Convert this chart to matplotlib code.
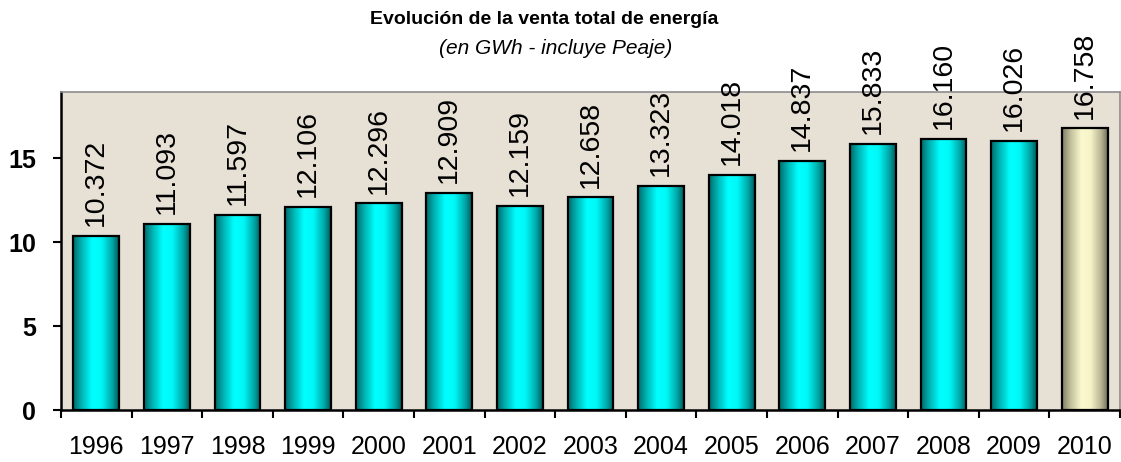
import numpy as np
import matplotlib
matplotlib.use("Agg")
import matplotlib.pyplot as plt
from matplotlib.colors import LinearSegmentedColormap

years = ["1996", "1997", "1998", "1999", "2000", "2001", "2002", "2003",
         "2004", "2005", "2006", "2007", "2008", "2009", "2010"]
values = [10.372, 11.093, 11.597, 12.106, 12.296, 12.909, 12.159, 12.658,
          13.323, 14.018, 14.837, 15.833, 16.160, 16.026, 16.758]
labels = ["10.372", "11.093", "11.597", "12.106", "12.296", "12.909", "12.159", "12.658",
          "13.323", "14.018", "14.837", "15.833", "16.160", "16.026", "16.758"]
yticks = [0, 5, 10, 15]
title = "Evolución de la venta total de energía"
subtitle = "(en GWh - incluye Peaje)"

plt.rcParams['font.family'] = ['Liberation Sans', 'DejaVu Sans']

W, H = 1121, 462
fig = plt.figure(figsize=(W / 100, H / 100), dpi=100)
ax = fig.add_axes([61 / W, 52 / H, 1059 / W, 318 / H])
ax.set_facecolor('#E6E0D5')

x = np.arange(len(values))
bars = ax.bar(x, values, width=0.65, color='none', edgecolor='black', linewidth=1.6, zorder=3)

cyan = LinearSegmentedColormap.from_list(
    'cy', [(0, '#006A6A'), (0.2, '#00B8B8'), (0.42, '#00FFFF'), (0.62, '#00F8F8'),
           (0.85, '#00A8A8'), (1, '#005A5A')])
beige = LinearSegmentedColormap.from_list(
    'bg', [(0, '#7E7E66'), (0.2, '#C6C4A0'), (0.42, '#FAF8CC'), (0.62, '#F6F4C8'),
           (0.85, '#B8B694'), (1, '#6E6E58')])
grad = np.linspace(0, 1, 256).reshape(1, -1)
for i, b in enumerate(bars):
    cm = beige if i == len(bars) - 1 else cyan
    x0, w, h = b.get_x(), b.get_width(), b.get_height()
    im = ax.imshow(grad, cmap=cm, aspect='auto', extent=[x0, x0 + w, 0, h],
                   zorder=2, interpolation='bicubic')
    im.set_clip_path(b)

for xi, v, lab in zip(x, values, labels):
    ax.annotate(lab, (xi, v), xytext=(0, 7), textcoords='offset points',
                rotation=90, ha='center', va='bottom', fontsize=20.5, zorder=4,
                annotation_clip=False)

ax.set_xlim(-0.5, len(values) - 0.5)
ax.set_ylim(0, 18.93)
ax.set_yticks(yticks)
ax.set_yticklabels([str(t) for t in yticks], fontsize=18, fontweight='bold')
ax.set_xticks(x)
ax.set_xticklabels(years, fontsize=18)
ax.tick_params(axis='x', which='major', length=0, pad=18)
ax.set_xticks(np.arange(-0.5, len(values), 1), minor=True)
ax.tick_params(axis='x', which='minor', length=6, width=1.5, direction='out')
ax.tick_params(axis='y', length=6, width=1.5, direction='out', pad=12)

for s in ['left', 'bottom']:
    ax.spines[s].set_linewidth(1.8)
    ax.spines[s].set_color('black')
for s in ['top', 'right']:
    ax.spines[s].set_linewidth(1.2)
    ax.spines[s].set_color('#8C8C8C')

fig.text(544 / W, 1 - 20 / H, title, ha='center', va='center', fontsize=14, fontweight='bold')
fig.text(556 / W, 1 - 49 / H, subtitle, ha='center', va='center', fontsize=15, style='italic')

fig.savefig('out.png', dpi=100)
